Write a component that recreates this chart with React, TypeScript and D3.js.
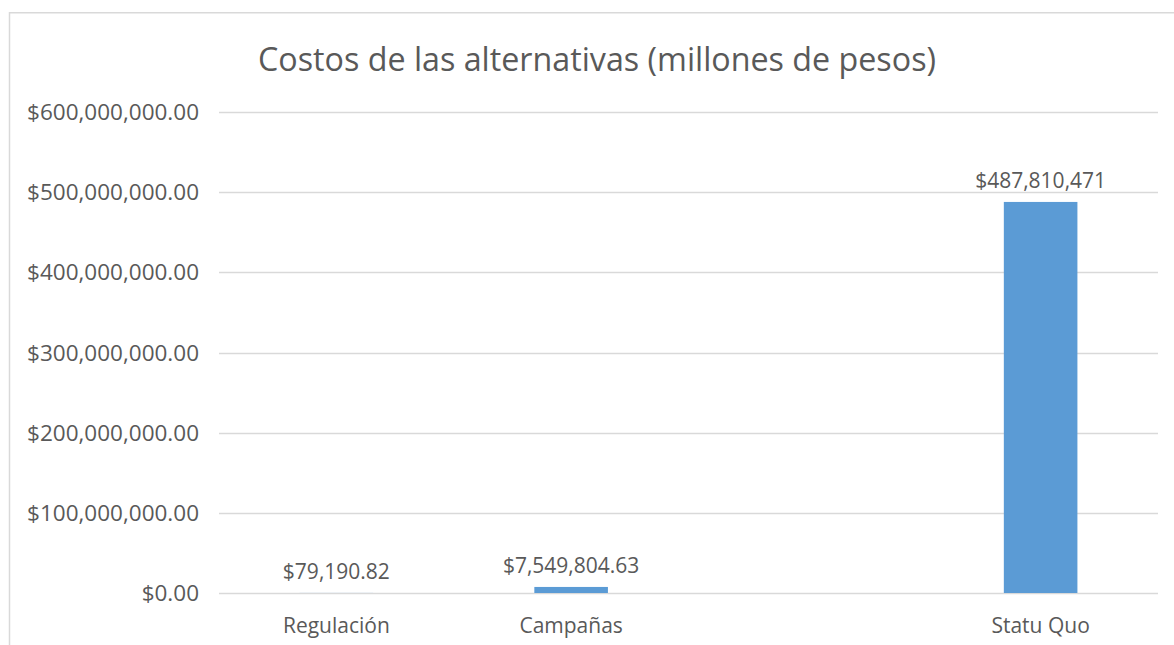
import React from 'react';
import * as d3 from 'd3';

// chart data
const categories = ['Regulación', 'Campañas', '', 'Statu Quo'];
const costs: (number | null)[] = [79190.82, 7549804.63, null, 487810471];
const yTicks = [0, 100000000, 200000000, 300000000, 400000000, 500000000, 600000000];
const title = 'Costos de las alternativas (millones de pesos)';

const W = 1174;
const H = 645;
const margin = { left: 219, right: 16, top: 112, bottom: 52 };
const FONT = "'Open Sans', 'Noto Sans', sans-serif";
const TEXT = '#595959';
const GRID = '#D9D9D9';
const BAR = '#5B9BD5';

const gap = 2.19;
const inner = gap / (1 + gap);

const fmtTick = d3.format('$,.2f');
const fmtLabel = (v: number) => (Number.isInteger(v) ? d3.format('$,.0f')(v) : d3.format('$,.2f')(v));

export default function App() {
  const x = d3
    .scaleBand<string>()
    .domain(categories.map((_, i) => String(i)))
    .range([margin.left, W - margin.right])
    .paddingInner(inner)
    .paddingOuter(inner / 2);

  const y = d3
    .scaleLinear()
    .domain([0, 600000000])
    .range([H - margin.bottom, margin.top]);

  return (
    <div style={{ position: 'absolute', left: 0, top: 0 }}>
      <svg width={W} height={H} style={{ display: 'block', background: '#fff' }} fontFamily={FONT}>
        {/* chart border, cut off at right and bottom */}
        <rect x={9.5} y={12.75} width={W + 20} height={H + 20} fill="none" stroke={GRID} strokeWidth={1.5} />

        <text
          x={597}
          y={71}
          textAnchor="middle"
          fontSize={32}
          fill={TEXT}
          textLength={678}
          lengthAdjust="spacingAndGlyphs"
        >
          {title}
        </text>

        {/* gridlines + y ticks */}
        <g>
          {yTicks.map((t) => (
            <g key={t}>
              <line
                x1={margin.left}
                x2={W - margin.right}
                y1={Math.round(y(t)) + 0.5}
                y2={Math.round(y(t)) + 0.5}
                stroke={GRID}
                strokeWidth={1.5}
              />
              <text x={199} y={y(t) + 8} textAnchor="end" fontSize={22.5} fill={TEXT}>
                {fmtTick(t)}
              </text>
            </g>
          ))}
        </g>

        {/* bars */}
        <g>
          {costs.map((v, i) =>
            v === null ? null : (
              <rect
                key={i}
                x={x(String(i))}
                y={y(v)}
                width={x.bandwidth()}
                height={y(0) - y(v)}
                fill={BAR}
              />
            )
          )}
        </g>

        {/* data labels */}
        <g>
          {costs.map((v, i) =>
            v === null ? null : (
              <text
                key={i}
                x={(x(String(i)) as number) + x.bandwidth() / 2}
                y={y(v) - 14}
                textAnchor="middle"
                fontSize={21}
                fill={TEXT}
              >
                {fmtLabel(v)}
              </text>
            )
          )}
        </g>

        {/* category labels */}
        <g>
          {categories.map((c, i) => (
            <text
              key={i}
              x={(x(String(i)) as number) + x.bandwidth() / 2}
              y={H - margin.bottom + 40}
              textAnchor="middle"
              fontSize={21}
              fill={TEXT}
            >
              {c}
            </text>
          ))}
        </g>
      </svg>
    </div>
  );
}
